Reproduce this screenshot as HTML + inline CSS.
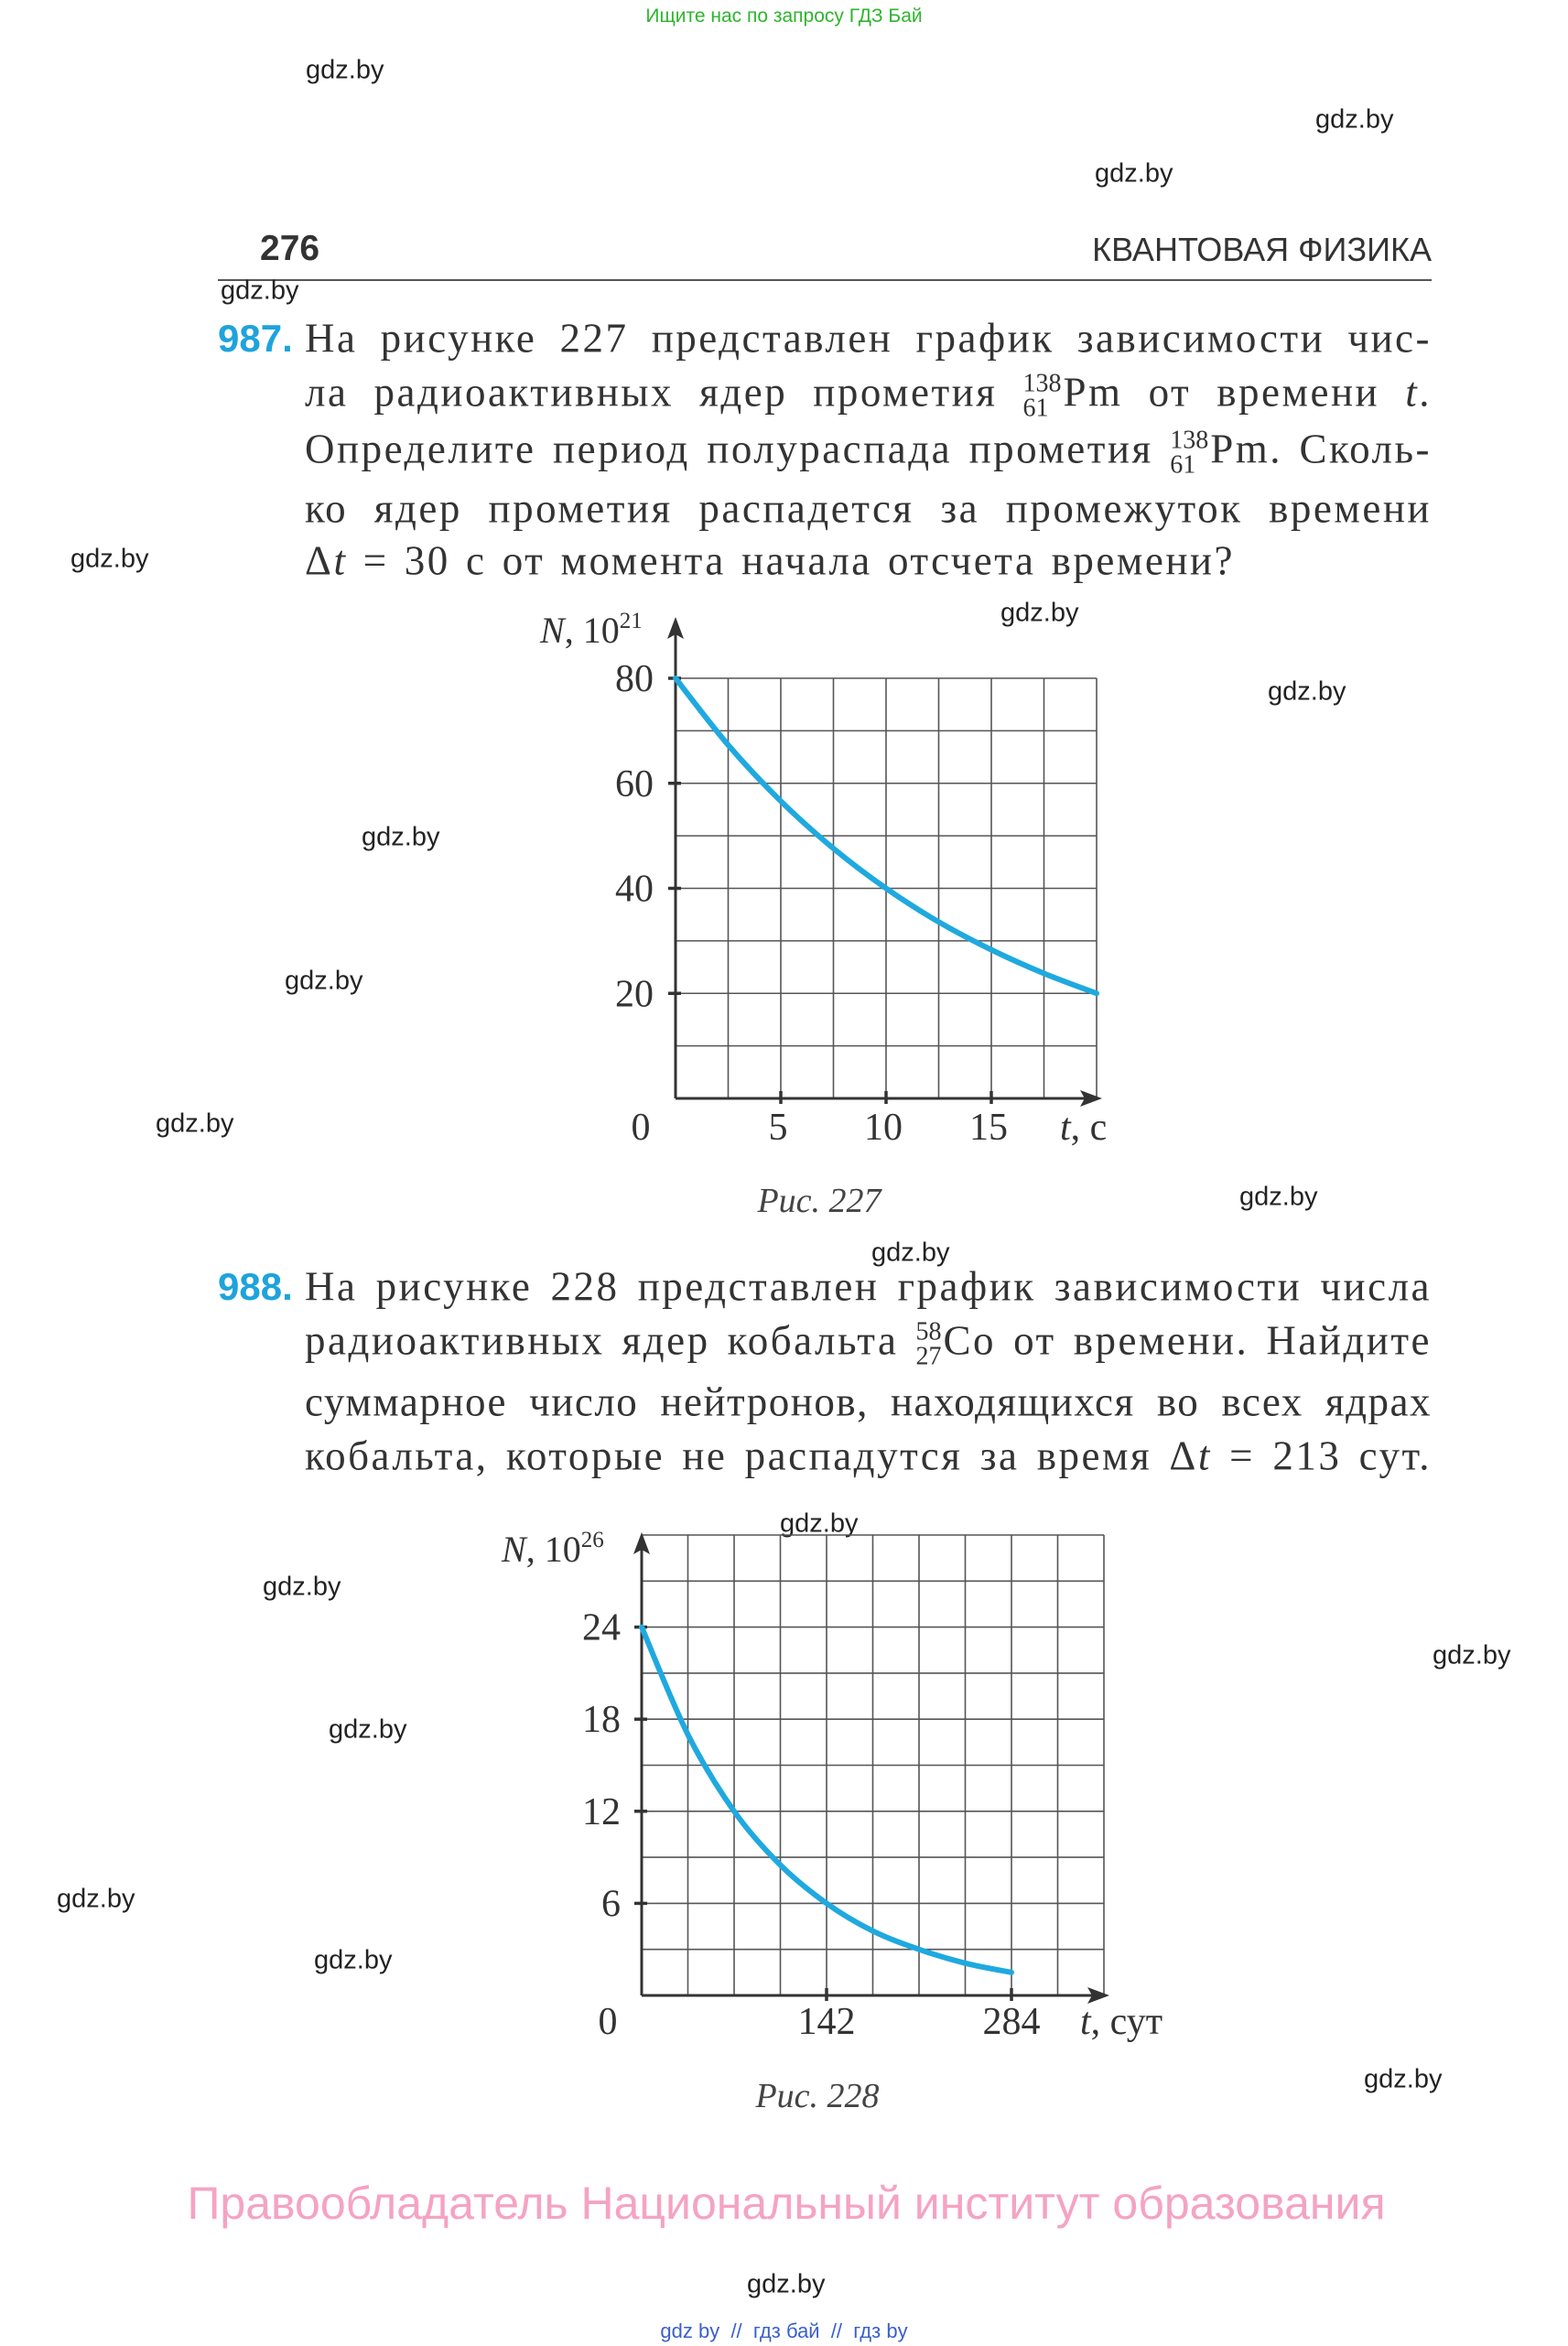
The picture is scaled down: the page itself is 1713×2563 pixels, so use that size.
<!DOCTYPE html>
<html><head><meta charset="utf-8">
<style>
body{margin:0;width:1713px;height:2563px;background:#fff;position:relative;overflow:hidden;font-family:"Liberation Serif",serif;color:#333}
.a{position:absolute;white-space:nowrap}
.wm{position:absolute;font-family:"Liberation Sans",sans-serif;font-size:29px;color:#222;line-height:1;transform:translateY(-50%)}
.ln{position:absolute;left:333px;width:1231px;font-size:45px;letter-spacing:2.5px;line-height:1;text-align:justify;text-align-last:justify;white-space:nowrap;color:#333;transform:translateY(-50%)}
.iso{display:inline-block;position:relative;vertical-align:middle;font-size:28px;letter-spacing:0;line-height:0.95;text-align:right;margin-right:2px}
.num{position:absolute;left:238px;font-family:"Liberation Sans",sans-serif;font-weight:bold;color:#1ea3dc;font-size:42px;transform:translateY(-50%)}
</style></head><body>
<div class="a" style="left:0;width:1713px;text-align:center;top:6px;font-family:'Liberation Sans',sans-serif;font-size:21px;color:#2db52d">Ищите нас по запросу ГДЗ Бай</div>

<div class="a" style="left:284px;top:250px;font-family:'Liberation Sans',sans-serif;font-weight:bold;font-size:39px;color:#333">276</div>
<div class="a" style="right:149px;top:252px;font-family:'Liberation Sans',sans-serif;font-size:36px;color:#333">КВАНТОВАЯ ФИЗИКА</div>
<div class="a" style="left:238px;top:305px;width:1326px;height:2px;background:#555"></div>

<div class="num" style="top:370px">987.</div>
<div class="ln" style="top:370px">На рисунке 227 представлен график зависимости чис-</div>
<div class="ln" style="top:433px">ла радиоактивных ядер прометия <span class="iso">138<br>61</span>Pm от времени <i>t</i>.</div>
<div class="ln" style="top:495px">Определите период полураспада прометия <span class="iso">138<br>61</span>Pm. Сколь-</div>
<div class="ln" style="top:556px">ко ядер прометия распадется за промежуток времени</div>
<div class="ln" style="top:613px;width:1016px">Δ<i>t</i> = 30 с от момента начала отсчета времени?</div>

<div class="num" style="top:1406px">988.</div>
<div class="ln" style="top:1406px">На рисунке 228 представлен график зависимости числа</div>
<div class="ln" style="top:1469px">радиоактивных ядер кобальта <span class="iso">58<br>27</span>Co от времени. Найдите</div>
<div class="ln" style="top:1532px;letter-spacing:1.5px">суммарное число нейтронов, находящихся во всех ядрах</div>
<div class="ln" style="top:1591px">кобальта, которые не распадутся за время Δ<i>t</i> = 213 сут.</div>

<div class="a" style="left:0;width:1790px;text-align:center;top:1290px;font-style:italic;font-size:38px;color:#444">Рис. 227</div>
<div class="a" style="left:0;width:1786px;text-align:center;top:2268px;font-style:italic;font-size:38px;color:#444">Рис. 228</div>

<div class="a" style="left:0;width:1718px;text-align:center;top:2378px;font-family:'Liberation Sans',sans-serif;font-size:50px;color:#f5a3c3">Правообладатель Национальный институт образования</div>
<div class="a" style="left:0;width:1713px;text-align:center;top:2534px;font-family:'Liberation Sans',sans-serif;font-size:22px;color:#3a5fcd">gdz by &nbsp;// &nbsp;гдз бай &nbsp;// &nbsp;гдз by</div>

<div class="wm" style="left:334px;top:77px">gdz.by</div>
<div class="wm" style="left:1437px;top:131px">gdz.by</div>
<div class="wm" style="left:1196px;top:190px">gdz.by</div>
<div class="wm" style="left:241px;top:318px">gdz.by</div>
<div class="wm" style="left:77px;top:611px">gdz.by</div>
<div class="wm" style="left:1093px;top:670px">gdz.by</div>
<div class="wm" style="left:1385px;top:756px">gdz.by</div>
<div class="wm" style="left:395px;top:915px">gdz.by</div>
<div class="wm" style="left:311px;top:1072px">gdz.by</div>
<div class="wm" style="left:170px;top:1228px">gdz.by</div>
<div class="wm" style="left:1354px;top:1308px">gdz.by</div>
<div class="wm" style="left:952px;top:1369px">gdz.by</div>
<div class="wm" style="left:852px;top:1665px">gdz.by</div>
<div class="wm" style="left:287px;top:1734px">gdz.by</div>
<div class="wm" style="left:1565px;top:1809px">gdz.by</div>
<div class="wm" style="left:359px;top:1890px">gdz.by</div>
<div class="wm" style="left:62px;top:2075px">gdz.by</div>
<div class="wm" style="left:343px;top:2142px">gdz.by</div>
<div class="wm" style="left:1490px;top:2272px">gdz.by</div>
<div class="wm" style="left:816px;top:2496px">gdz.by</div>

<svg id="charts" width="1713" height="2563" style="position:absolute;left:0;top:0;pointer-events:none" xmlns="http://www.w3.org/2000/svg" font-family="Liberation Serif, serif" fill="#333">
</svg>

<script>
// Chart 1 (Pm-138)
const tValues1 = [0, 2.5, 5, 7.5, 10, 12.5, 15, 17.5, 20];
const nValues1 = [80, 67.3, 56.6, 47.6, 40, 33.6, 28.3, 23.8, 20];
const yTicks1 = [20, 40, 60, 80];
const xTicks1 = [5, 10, 15];
// Chart 2 (Co-58)
const tValues2 = [0, 35.5, 71, 106.5, 142, 177.5, 213, 248.5, 284];
const nValues2 = [24, 17, 12, 8.5, 6, 4.2, 3, 2.1, 1.5];
const yTicks2 = [6, 12, 18, 24];
const xTicks2 = [142, 284];

const svg = document.getElementById('charts');
const NS = 'http://www.w3.org/2000/svg';
function mk(tag, attrs, parent){
  const e = document.createElementNS(NS, tag);
  for (const k in attrs) e.setAttribute(k, attrs[k]);
  (parent||svg).appendChild(e);
  return e;
}
function smooth(pts){
  let d = 'M' + pts[0][0] + ',' + pts[0][1];
  for (let i=0;i<pts.length-1;i++){
    const p0=pts[Math.max(i-1,0)], p1=pts[i], p2=pts[i+1], p3=pts[Math.min(i+2,pts.length-1)];
    const c1=[p1[0]+(p2[0]-p0[0])/6, p1[1]+(p2[1]-p0[1])/6];
    const c2=[p2[0]-(p3[0]-p1[0])/6, p2[1]-(p3[1]-p1[1])/6];
    d += ' C'+c1[0]+','+c1[1]+' '+c2[0]+','+c2[1]+' '+p2[0]+','+p2[1];
  }
  return d;
}
function drawChart(cfg){
  const g = mk('g', {});
  
  
  const xs = t => cfg.x0 + t / cfg.tMax * (cfg.x1 - cfg.x0);
  const ys = n => cfg.y0 - n / cfg.nMax * (cfg.y0 - cfg.y1);
  for (let i=1;i<=cfg.cols;i++){
    const l = mk('line', {x1:xs(cfg.tMax*i/cfg.cols), x2:xs(cfg.tMax*i/cfg.cols), y1:cfg.y0, y2:cfg.y1, stroke:'#555', 'stroke-width':1.6}, g);
    
    
  }
  for (let i=1;i<=cfg.rows;i++){
    const l = mk('line', {x1:cfg.x0, x2:cfg.x1, y1:ys(cfg.nMax*i/cfg.rows), y2:ys(cfg.nMax*i/cfg.rows), stroke:'#555', 'stroke-width':1.6}, g);
    
    
  }
  const xa = mk('line', {x1:cfg.x0, x2:cfg.x1, y1:cfg.y0, y2:cfg.y0, stroke:'#333', 'stroke-width':3}, g);
  
  
  const xar = mk('path', {d:`M${cfg.x1+6},${cfg.y0} l-24,-9 l5,9 l-5,9 z`, fill:'#333'}, g);
  
  
  const ya = mk('line', {x1:cfg.x0, x2:cfg.x0, y1:cfg.y0, y2:cfg.yTop, stroke:'#333', 'stroke-width':3}, g);
  
  
  const yar = mk('path', {d:`M${cfg.x0},${cfg.yTop-6} l-9,24 l9,-5 l9,5 z`, fill:'#333'}, g);
  
  
  cfg.yTicks.forEach(v => {
    const tk = mk('line', {x1:cfg.x0-8, x2:cfg.x0+6, y1:ys(v), y2:ys(v), stroke:'#333', 'stroke-width':3.5}, g);
    
    
    const tx = mk('text', {x:cfg.labelRight, y:ys(v)+14, 'text-anchor':'end', 'font-size':42}, g);
    tx.textContent = v;
    
    
  });
  cfg.xTicks.forEach(v => {
    const tk = mk('line', {x1:xs(v), x2:xs(v), y1:cfg.y0-8, y2:cfg.y0+6, stroke:'#333', 'stroke-width':3.5}, g);
    
    
    const tx = mk('text', {x:xs(v)+cfg.xLabelShift, y:cfg.xLabelY, 'text-anchor':'middle', 'font-size':42}, g);
    tx.textContent = v;
    
    
  });
  const z = mk('text', {x:cfg.zeroX, y:cfg.xLabelY, 'text-anchor':'middle', 'font-size':42}, g);
  z.textContent = '0';
  
  
  const xt = mk('text', {x:cfg.xTitleX, y:cfg.xLabelY, 'font-size':42}, g);
  xt.innerHTML = '<tspan font-style="italic">t</tspan>, ' + cfg.unit;
  
  
  const yt = mk('text', {x:cfg.yTitleX, y:cfg.yTitleY, 'font-size':40}, g);
  yt.innerHTML = '<tspan font-style="italic">N</tspan>, 10<tspan font-size="25" dy="-16">' + cfg.exp + '</tspan>';
  
  
  const pts = cfg.t.map((t,i) => [xs(t), ys(cfg.n[i])]);
  const c = mk('path', {d:smooth(pts), fill:'none', stroke:'#1fa9df', 'stroke-width':6, 'stroke-linecap':'round'}, g);
  
  
}
drawChart({name:'chart-227', x0:738, x1:1198, y0:1200, y1:741, yTop:680, tMax:20, nMax:80, cols:8, rows:8,
  t:tValues1, n:nValues1, yTicks:yTicks1, xTicks:xTicks1, labelRight:714, xLabelY:1245, xLabelShift:-3,
  zeroX:700, xTitleX:1158, unit:'с', yTitleX:590, yTitleY:702, exp:'21'});
drawChart({name:'chart-228', x0:701, x1:1206, y0:2180, y1:1677, yTop:1680, tMax:355, nMax:30, cols:10, rows:10,
  t:tValues2, n:nValues2, yTicks:yTicks2, xTicks:xTicks2, labelRight:678, xLabelY:2222, xLabelShift:0,
  zeroX:664, xTitleX:1180, unit:'сут', yTitleX:548, yTitleY:1706, exp:'26'});
</script>
</body></html>
